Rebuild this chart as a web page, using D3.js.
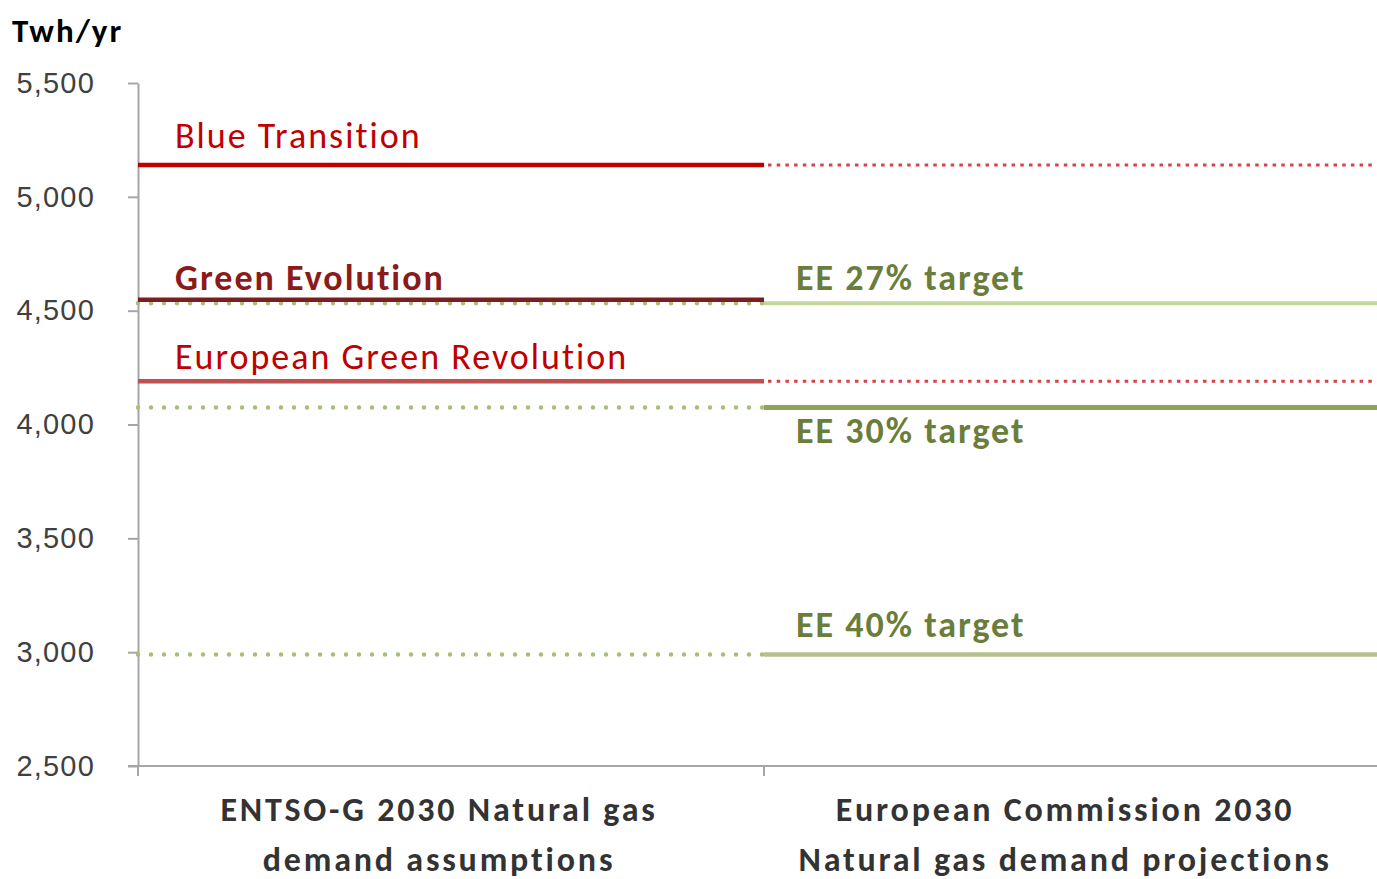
<!DOCTYPE html>
<html>
<head>
<meta charset="utf-8">
<script src="https://cdn.jsdelivr.net/npm/d3@7"></script>
<style>
  body { margin: 0; background: #fff; }
  svg { font-family: Carlito, Calibri, Lato, sans-serif; }
</style>
</head>
<body>
<script>
const categories = [
  ['ENTSO-G 2030 Natural gas', 'demand assumptions'],
  ['European Commission 2030', 'Natural gas demand projections'],
];
const yTicks = [2500, 3000, 3500, 4000, 4500, 5000, 5500];

// ENTSO-G scenarios (solid on the left, dotted on the right)
const scenarioNames = ['Blue Transition', 'Green Evolution', 'European Green Revolution'];
const scenarioValues = [5140, 4548, 4190];

// EC targets (dotted on the left, solid on the right)
const targetNames = ['EE 27% target', 'EE 30% target', 'EE 40% target'];
const targetValues = [4533, 4075, 2990];

const width = 1377;
const height = 879;
const margin = { left: 138, top: 83, bottom: 113 };

const svg = d3
  .select('body')
  .append('svg')
  .attr('width', width)
  .attr('height', height);

const x = d3
  .scaleBand()
  .domain([0, 1])
  .range([margin.left, 1390]);

const y = d3
  .scaleLinear()
  .domain([2500, 5500])
  .range([height - margin.bottom, margin.top]);

// axes
const yAxis = d3
  .axisLeft(y)
  .tickValues(yTicks)
  .tickFormat(d3.format(','))
  .tickSize(10)
  .tickSizeOuter(0)
  .tickPadding(33);

svg
  .append('g')
  .attr('transform', `translate(${margin.left},0)`)
  .call(yAxis)
  .call((g) => g.select('.domain').attr('stroke', '#a6a6a6').attr('stroke-width', 2))
  .call((g) => g.selectAll('.tick line').attr('stroke', '#a6a6a6').attr('stroke-width', 2))
  .call((g) =>
    g
      .selectAll('.tick text')
      .attr('fill', '#404040')
      .style('font-size', '29px')
      .style('letter-spacing', '1.2px')
  );

svg
  .append('line')
  .attr('x1', margin.left - 10)
  .attr('x2', width)
  .attr('y1', y(2500))
  .attr('y2', y(2500))
  .attr('stroke', '#a6a6a6')
  .attr('stroke-width', 2);

svg
  .append('g')
  .selectAll('line')
  .data([x(0), x(1)])
  .join('line')
  .attr('x1', (d) => d)
  .attr('x2', (d) => d)
  .attr('y1', y(2500))
  .attr('y2', y(2500) + 10)
  .attr('stroke', '#a6a6a6')
  .attr('stroke-width', 2);

// category labels
svg
  .append('g')
  .selectAll('text')
  .data(categories)
  .join('text')
  .attr('text-anchor', 'middle')
  .attr('fill', '#333')
  .style('font-size', '34px')
  .style('font-weight', 'bold')
  .style('letter-spacing', '2.8px')
  .each(function (d, i) {
    d3.select(this)
      .selectAll('tspan')
      .data(d)
      .join('tspan')
      .attr('x', x(i) + x.bandwidth() / 2 - 12)
      .attr('y', (_, j) => 821 + j * 50)
      .text((t) => t);
  });

// title
svg
  .append('text')
  .attr('x', 12)
  .attr('y', 42)
  .attr('fill', '#000')
  .style('font-size', '33px')
  .style('font-weight', 'bold')
  .style('letter-spacing', '2px')
  .text('Twh/yr');

// Green Evolution has no visible projection on the right
const scenarioStyle = [
  { solid: '#c00000', dot: '#d9414a', text: '#c00000', bold: false, ty: 148, dotted: true },
  { solid: '#7a1e21', dot: '#d9414a', text: '#8b1a1a', bold: true, ty: 290, dotted: false },
  { solid: '#c0504d', dot: '#d9414a', text: '#c00000', bold: false, ty: 369, dotted: true },
];
const targetStyle = [
  { solid: '#c3d69b', width: 4, dot: '#a9be78', ty: 290 },
  { solid: '#8fa25a', width: 5, dot: '#a9be78', ty: 443 },
  { solid: '#b5c18a', width: 4.5, dot: '#a9be78', ty: 637 },
];

const lines = svg.append('g');

// dotted halves first, solid on top
targetValues.forEach((v, i) => {
  lines
    .append('line')
    .attr('x1', x(0))
    .attr('x2', x(1))
    .attr('y1', y(v))
    .attr('y2', y(v))
    .attr('stroke', targetStyle[i].dot)
    .attr('stroke-width', 4.5)
    .attr('stroke-linecap', 'round')
    .attr('stroke-dasharray', '0 13');
});

scenarioValues.forEach((v, i) => {
  if (!scenarioStyle[i].dotted) return;
  lines
    .append('line')
    .attr('x1', x(1) + 4)
    .attr('x2', width)
    .attr('y1', y(v))
    .attr('y2', y(v))
    .attr('stroke', scenarioStyle[i].dot)
    .attr('stroke-width', 3)
    .attr('stroke-dasharray', '3.5 5.2');
});

scenarioValues.forEach((v, i) => {
  lines
    .append('line')
    .attr('x1', x(0))
    .attr('x2', x(1))
    .attr('y1', y(v))
    .attr('y2', y(v))
    .attr('stroke', scenarioStyle[i].solid)
    .attr('stroke-width', 4.5);
  svg
    .append('text')
    .attr('x', 175)
    .attr('y', scenarioStyle[i].ty)
    .attr('fill', scenarioStyle[i].text)
    .style('font-size', '36px')
    .style('font-weight', scenarioStyle[i].bold ? 'bold' : 'normal')
    .style('letter-spacing', '2px')
    .text(scenarioNames[i]);
});

targetValues.forEach((v, i) => {
  lines
    .append('line')
    .attr('x1', x(1))
    .attr('x2', width)
    .attr('y1', y(v))
    .attr('y2', y(v))
    .attr('stroke', targetStyle[i].solid)
    .attr('stroke-width', targetStyle[i].width);
  svg
    .append('text')
    .attr('x', 796)
    .attr('y', targetStyle[i].ty)
    .attr('fill', '#6b7d3a')
    .style('font-size', '36px')
    .style('font-weight', 'bold')
    .style('letter-spacing', '2px')
    .text(targetNames[i]);
});
</script>
</body>
</html>
